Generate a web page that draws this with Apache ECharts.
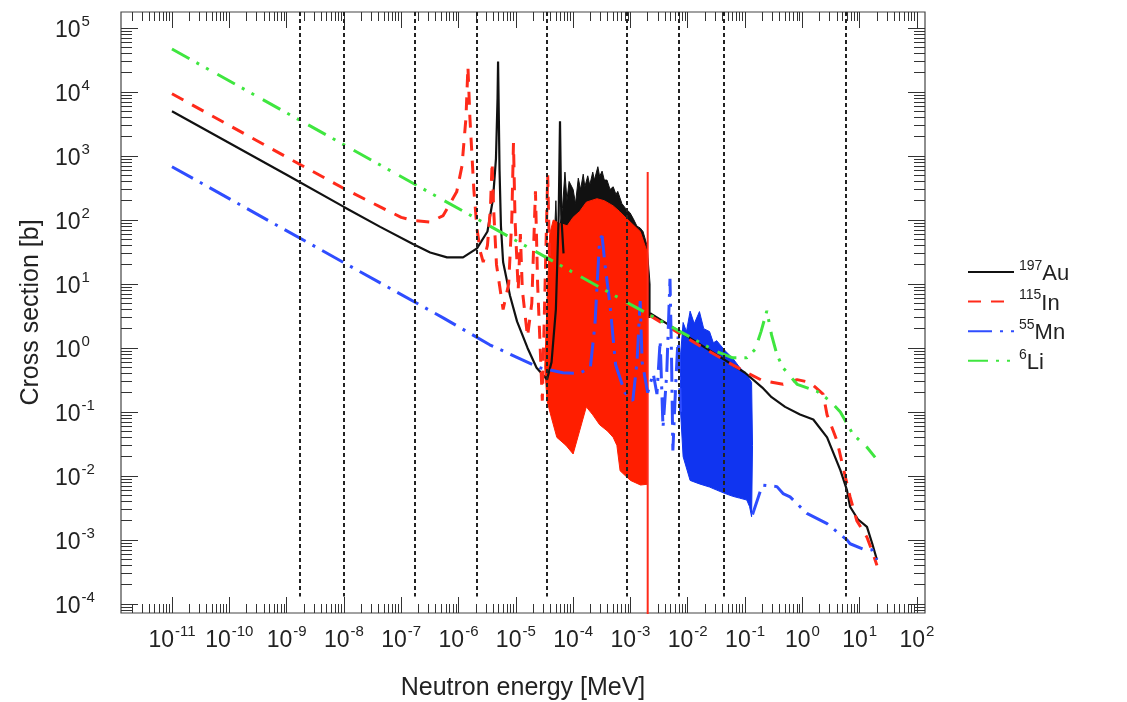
<!DOCTYPE html>
<html><head><meta charset="utf-8">
<script src="https://cdn.jsdelivr.net/npm/echarts@6/dist/echarts.min.js"></script>
<style>html,body{margin:0;padding:0;background:#fff}#c{width:1127px;height:702px}</style>
</head><body><div id="c"></div>
<script>
// ---------- axis ranges and tick values ----------
const X_MIN = 1.29e-12, X_MAX = 138;
const Y_MIN = 7.2e-5, Y_MAX = 1.78e5;
const X_MAJOR = [1e-11,1e-10,1e-9,1e-8,1e-7,1e-6,1e-5,1e-4,1e-3,1e-2,1e-1,1,10,100];
const Y_MAJOR = [1e-4,1e-3,1e-2,1e-1,1,10,100,1e3,1e4,1e5];
const MINOR_STEPS = [2,3,4,5,6,7,8,9];
const X_MINOR_DECADES = [1e-12,1e-11,1e-10,1e-9,1e-8,1e-7,1e-6,1e-5,1e-4,1e-3,1e-2,1e-1,1,10,100];
const Y_MINOR_DECADES = [1e-5,1e-4,1e-3,1e-2,1e-1,1,10,100,1e3,1e4,1e5];

// energy group boundaries (vertical dashed lines), MeV
const BOUNDARIES = [1.7e-9, 1e-8, 1.74e-7, 2.1e-6, 3.5e-5, 8.7e-4, 7.1e-3, 4.2e-2, 5.8];

// ---------- 197Au ----------
const AU_LOW = [[1e-11,5000],[1e-9,510],[1e-8,160],[4.3e-8,78],[1.6e-7,42],[3.2e-7,31],[6.3e-7,26],[1.2e-6,26],[2.1e-6,36],[3.2e-6,66],[4.0e-6,215],[4.5e-6,900],[4.8e-6,8000],[4.9e-6,30000],[5.0e-6,8000],[5.2e-6,600],[5.5e-6,80],[6e-6,22],[7.9e-6,6.6],[1.05e-5,2.6],[1.6e-5,1.0],[2.3e-5,0.49],[3.5e-5,0.32],[4.2e-5,0.6],[5.0e-5,4],[5.6e-5,120],[5.9e-5,3500],[6.2e-5,120],[6.8e-5,30]];
const AU_RES = [[4.5e-5,20],[5.0e-5,200],[5.3e-5,40],[6.5e-5,150],[7.2e-5,560],[7.8e-5,200],[8.5e-5,400],[1.0e-4,300],[1.1e-4,180],[1.23e-4,450],[1.35e-4,300],[1.5e-4,520],[1.6e-4,330],[1.8e-4,490],[1.95e-4,350],[2.2e-4,560],[2.35e-4,420],[2.7e-4,680],[2.9e-4,480],[3.2e-4,580],[3.5e-4,420],[3.9e-4,420],[4.4e-4,300],[5.0e-4,330],[5.6e-4,250],[6.0e-4,280],[7.1e-4,180],[8.3e-4,150],[9.8e-4,130],[1.12e-3,105],[1.3e-3,80],[1.48e-3,75],[1.66e-3,66],[1.95e-3,40],[2.2e-3,10],[2.2e-3,3],[4.5e-5,3]];
const AU_HIGH = [[2.2e-3,3.5],[1e-2,1.5],[0.1,0.41],[0.2,0.24],[0.29,0.17],[0.5,0.12],[0.91,0.091],[1.55,0.076],[2.7,0.04],[4.6,0.0123],[6.0,0.006],[6.8,0.0033],[9.3,0.0021],[13.4,0.0016],[16.6,0.00087],[20,0.00049]];

// ---------- 115In ----------
const IN_LOW = [[1e-11,9400],[1e-9,960],[1e-8,310],[4.3e-8,160],[1e-7,110],[1.6e-7,98],[3.2e-7,93],[5.4e-7,117],[9.3e-7,275],[1.15e-6,700],[1.35e-6,4000],[1.46e-6,25000],[1.58e-6,4000],[1.85e-6,300],[2.1e-6,73],[2.4e-6,32],[2.7e-6,22],[3.2e-6,40],[3.6e-6,150],[3.86e-6,800],[4.1e-6,150],[4.6e-6,20],[6e-6,4],[7.5e-6,10],[8.5e-6,100],[9.1e-6,1600],[9.7e-6,100],[1.1e-5,8],[1.2e-5,60],[1.3e-5,8],[1.6e-5,1.5],[1.9e-5,5],[2.2e-5,280],[2.4e-5,10],[2.9e-5,0.15],[3.3e-5,20],[3.6e-5,500],[3.9e-5,20]];
const IN_RES = [[3.9e-5,60],[4.5e-5,100],[5.5e-5,90],[7.9e-5,81],[1.0e-4,110],[1.3e-4,136],[1.7e-4,190],[2.6e-4,215],[3.5e-4,200],[5e-4,166],[6.5e-4,135],[8.6e-4,105],[1.1e-3,85],[1.48e-3,66],[1.95e-3,32],[1.95e-3,0.0074],[1.5e-3,0.0072],[1e-3,0.0085],[6.6e-4,0.012],[5.8e-4,0.03],[5e-4,0.04],[4e-4,0.05],[2.9e-4,0.063],[2.2e-4,0.09],[1.7e-4,0.12],[1.3e-4,0.051],[1e-4,0.022],[7.5e-5,0.03],[5.2e-5,0.04],[4.2e-5,0.08],[3.5e-5,0.15],[3.2e-5,0.5],[3.5e-5,5]];
const IN_SPIKE = [[2.0e-3,560],[2.0e-3,1e-5]];
const IN_HIGH = [[2.2e-3,3.2],[1e-2,1.4],[5e-2,0.6],[9.3e-2,0.44],[0.2,0.31],[0.46,0.27],[0.81,0.32],[1.35,0.29],[2.3,0.19],[2.7,0.09],[4.0,0.036],[5.1,0.014],[6.8,0.0047],[8.9,0.002],[13.4,0.0011],[17,0.00062],[20,0.0004]];

// ---------- 55Mn ----------
const MN_LOW = [[1e-11,680],[1e-8,21.5],[5.4e-7,2.95],[1.4e-6,1.8],[3.5e-6,1.12],[2.6e-5,0.49],[6.6e-5,0.41],[1.3e-4,0.4],[2.0e-4,0.5],[2.4e-4,2.3],[2.9e-4,51],[3.2e-4,56],[3.6e-4,20],[4.4e-4,4.7],[5.5e-4,0.55],[8e-4,0.2],[1.1e-3,0.15],[1.3e-3,0.6],[1.48e-3,5.4],[1.6e-3,0.6],[2e-3,0.2],[2.5e-3,0.4],[2.9e-3,0.19],[3.3e-3,1.3],[3.7e-3,0.057],[4.3e-3,0.4],[4.9e-3,12],[5.2e-3,0.8],[5.5e-3,0.025],[6.2e-3,0.3],[6.8e-3,1.5],[7.5e-3,0.1]];
const MN_RES = [[7.5e-3,0.8],[8.3e-3,2.5],[9.5e-3,1.8],[1.1e-2,3.76],[1.3e-2,2.4],[1.6e-2,3.7],[1.9e-2,2.0],[2.4e-2,1.8],[2.8e-2,1.2],[3.2e-2,1.3],[4.5e-2,0.9],[6.1e-2,0.69],[8e-2,0.5],[0.107,0.38],[0.13,0.29],[0.135,0.03],[0.13,0.0023],[0.12,0.0033],[0.107,0.0042],[8e-2,0.0045],[6.1e-2,0.0048],[4.5e-2,0.0053],[3.2e-2,0.006],[2.4e-2,0.0067],[1.6e-2,0.0075],[1.1e-2,0.0085],[8.3e-3,0.02],[7.5e-3,0.1]];
const MN_HIGH = [[0.135,0.0025],[0.2,0.0072],[0.36,0.0068],[0.46,0.0053],[0.61,0.0047],[1.2,0.0026],[2.7,0.0018],[4.0,0.00134],[6.0,0.001],[6.8,0.00087],[11.5,0.00072],[16.5,0.0007],[20,0.00049]];

// ---------- 6Li ----------
const LI = [[1e-11,47000],[1e-3,4.8],[7.4e-3,1.8],[3e-2,0.9],[6.1e-2,0.7],[0.107,0.7],[0.15,0.95],[0.19,1.8],[0.24,3.8],[0.29,1.6],[0.36,0.78],[0.46,0.49],[0.81,0.27],[1.8,0.21],[3.0,0.15],[4.6,0.1],[7.6,0.045],[13.4,0.028],[18.6,0.0195]];

const NAMES = ['197Au','115In','55Mn','6Li'];
const COLORS = { au:'#111111', inn:'#ff2a1a', mn:'#2f4dff', li:'#3fe63f', inBand:'#ff1e00', mnBand:'#1034f0' };

// ---------- build ----------
const FONT = 'Liberation Sans, Arial, Helvetica, sans-serif';
function minorVals(decades, lo, hi) {
  const out = [];
  decades.forEach(d => MINOR_STEPS.forEach(s => { const v = d * s; if (v > lo && v < hi) out.push(v); }));
  return out;
}
const X_MINOR = minorVals(X_MINOR_DECADES, X_MIN, X_MAX);
const Y_MINOR = minorVals(Y_MINOR_DECADES, Y_MIN, Y_MAX);

function powLabel(v) {
  const e = Math.round(Math.log10(v));
  return '{b|10}{s|' + e + '}';
}
const labelRich = {
  b: { fontSize: 23, fontFamily: FONT, color: '#222', lineHeight: 28, verticalAlign: 'bottom' },
  s: { fontSize: 15, fontFamily: FONT, color: '#222', lineHeight: 15, verticalAlign: 'top', padding: [0,0,0,1] }
};

function mkAxis(pos, vals, len, withLabel, isX) {
  const a = {
    type: 'log', logBase: 10, position: pos,
    min: isX ? X_MIN : Y_MIN, max: isX ? X_MAX : Y_MAX,
    axisLine: { show: false },
    splitLine: { show: false },
    axisTick: { show: true, inside: true, length: len, customValues: vals, lineStyle: { color: '#333', width: 1 } },
    axisLabel: { show: false }
  };
  if (withLabel) {
    a.axisLabel = isX
      ? { show: true, customValues: vals, formatter: powLabel, margin: 11, rich: labelRich }
      : { show: true, customValues: vals, formatter: powLabel, margin: 66, align: 'left', rich: labelRich };
    a.name = isX ? 'Neutron energy [MeV]' : 'Cross section [b]';
    a.nameLocation = 'middle';
    a.nameGap = isX ? 63 : 75;
    a.nameTextStyle = { fontSize: 25, fontFamily: FONT, color: '#222' };
  }
  return a;
}

function line(name, data, color, width, type, z) {
  return { name, type: 'line', data, showSymbol: false, symbol: 'none', clip: true, silent: true,
    z: z || 2, lineStyle: { color, width, type, cap: 'butt' }, itemStyle: { color }, animation: false };
}
function band(name, pts, color) {
  return { name, type: 'custom', data: pts, clip: true, silent: true, animation: false,
    itemStyle: { color },
    renderItem: function (params, api) {
      if (params.dataIndex !== 0) return null;
      const points = pts.map(p => api.coord(p));
      return { type: 'polygon', shape: { points }, style: { fill: color, stroke: color, lineWidth: 1 } };
    } };
}

const DASH_IN = [13, 10];
const DASH_MN = [24, 8, 3, 8];
const DASH_LI = [20, 8, 3, 8, 3, 10];

const series = [
  line(NAMES[0], AU_LOW, COLORS.au, 2.2, 'solid'),
  band(NAMES[0], AU_RES, COLORS.au),
  line(NAMES[0], AU_HIGH, COLORS.au, 2.2, 'solid'),
  line(NAMES[1], IN_LOW, COLORS.inn, 3, DASH_IN),
  band(NAMES[1], IN_RES, COLORS.inBand),
  line(NAMES[1], IN_SPIKE, COLORS.inn, 2, 'solid'),
  line(NAMES[1], IN_HIGH, COLORS.inn, 3, DASH_IN),
  line(NAMES[2], MN_LOW, COLORS.mn, 3, DASH_MN),
  band(NAMES[2], MN_RES, COLORS.mnBand),
  line(NAMES[2], MN_HIGH, COLORS.mn, 3, DASH_MN),
  line(NAMES[3], LI, COLORS.li, 3, DASH_LI),
  { name: 'boundaries', type: 'line', data: [], silent: true, animation: false,
    markLine: { silent: true, animation: false, symbol: ['none','none'], label: { show: false },
      lineStyle: { color: '#222', width: 2, type: [4, 3] },
      data: BOUNDARIES.map(e => [{ coord: [e, Y_MAX] }, { coord: [e, 1.3e-4] }]) } }
];

const chart = echarts.init(document.getElementById('c'), null, { renderer: 'canvas' });
chart.setOption({
  animation: false,
  backgroundColor: '#fff',
  textStyle: { fontFamily: FONT },
  grid: { left: 121, top: 12, right: 202, bottom: 89, show: true, borderColor: '#444', borderWidth: 1.2,
    backgroundColor: 'transparent', outerBoundsMode: 'none', containLabel: false },
  xAxis: [
    mkAxis('bottom', X_MAJOR, 16, true, true),
    mkAxis('bottom', X_MINOR, 9, false, true),
    mkAxis('top', X_MAJOR, 16, false, true),
    mkAxis('top', X_MINOR, 9, false, true)
  ],
  yAxis: [
    mkAxis('left', Y_MAJOR, 17, true, false),
    mkAxis('left', Y_MINOR, 11, false, false),
    mkAxis('right', Y_MAJOR, 17, false, false),
    mkAxis('right', Y_MINOR, 11, false, false)
  ],
  legend: {
    data: NAMES, orient: 'vertical', left: 962, top: 254, itemWidth: 46, itemHeight: 14, itemGap: 3.6,
    selectedMode: false,
    itemStyle: { color: 'rgba(0,0,0,0)', borderWidth: 0, opacity: 0 },
    formatter: function (n) { const m = n.match(/^(\d+)(\D+)$/); return '{s|' + m[1] + '}{b|' + m[2] + '}'; },
    textStyle: { rich: {
      b: { fontSize: 22, fontFamily: FONT, color: '#222', lineHeight: 26, verticalAlign: 'bottom' },
      s: { fontSize: 14, fontFamily: FONT, color: '#222', lineHeight: 14, verticalAlign: 'top' } } }
  },
  series
});
</script></body></html>
